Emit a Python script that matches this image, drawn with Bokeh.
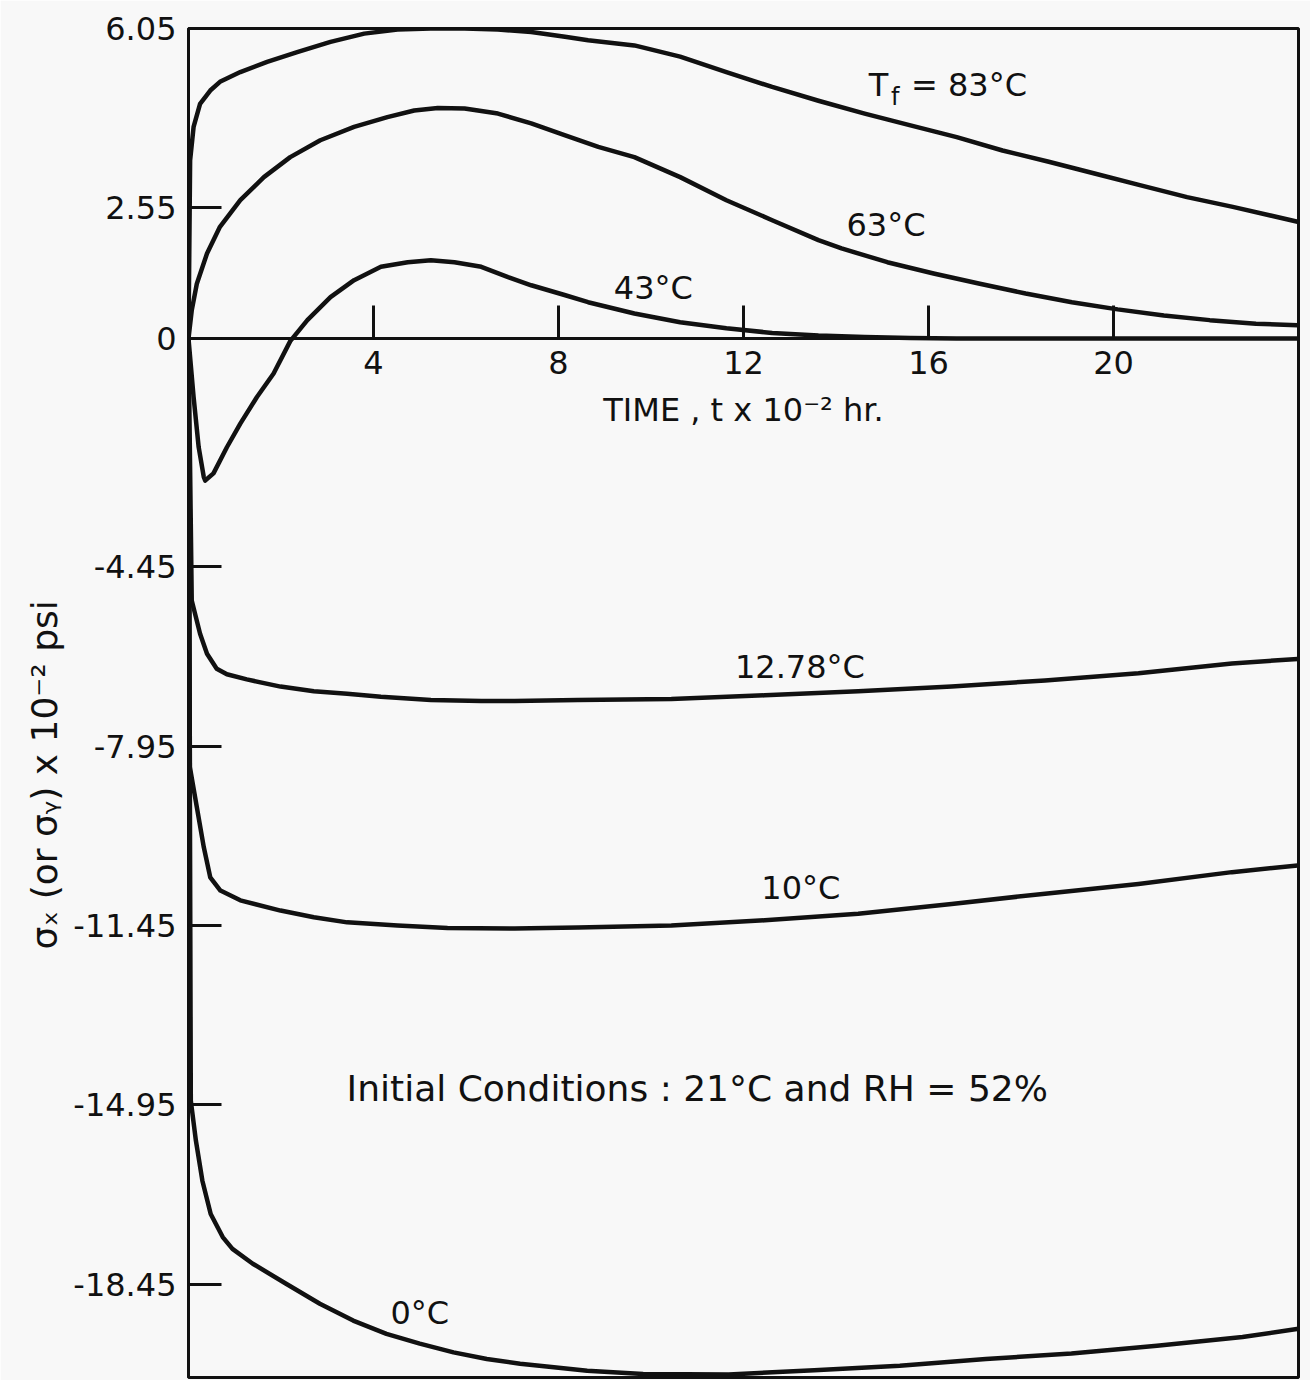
from math import pi
from bokeh.plotting import figure
from bokeh.models import LinearAxis, FixedTicker, Range1d, Title, ColumnDataSource
from bokeh.core.properties import value
from bokeh.embed import file_html
from bokeh.resources import INLINE

# ---------------- data ----------------
x_ticks = [4, 8, 12, 16, 20]
y_ticks = [6.05, 2.55, 0, -4.45, -7.95, -11.45, -14.95, -18.45]
y_tick_labels = ["6.05", "2.55", "0", "-4.45", "-7.95", "-11.45", "-14.95", "-18.45"]

t_83 = [0, 0.035, 0.11, 0.25, 0.47, 0.68, 1.12, 1.70, 2.35, 3.07, 3.80, 4.52, 5.24, 5.97, 6.69,
        7.41, 8.14, 8.64, 9.64, 10.63, 11.63, 12.62, 13.62, 14.62, 15.61, 16.61, 17.60, 18.60,
        19.59, 20.59, 21.59, 22.58, 23.98]
s_83 = [0, 3.48, 4.13, 4.58, 4.84, 5.01, 5.20, 5.40, 5.59, 5.79, 5.95, 6.03, 6.05, 6.05, 6.03,
        5.98, 5.89, 5.82, 5.72, 5.50, 5.20, 4.91, 4.64, 4.39, 4.16, 3.93, 3.67, 3.45,
        3.22, 2.99, 2.76, 2.57, 2.28]

t_63 = [0, 0.07, 0.18, 0.40, 0.68, 1.12, 1.63, 2.20, 2.85, 3.58, 4.30, 4.88, 5.39, 5.97, 6.69,
        7.41, 8.13, 8.86, 9.64, 10.63, 11.63, 12.62, 13.62, 14.12, 15.11, 16.11, 17.11, 18.10,
        19.10, 20.09, 21.09, 22.08, 23.08, 23.98]
s_63 = [0, 0.55, 1.07, 1.66, 2.18, 2.70, 3.15, 3.54, 3.87, 4.13, 4.32, 4.45, 4.50, 4.49, 4.39,
        4.20, 3.97, 3.74, 3.54, 3.15, 2.70, 2.31, 1.92, 1.76, 1.49, 1.27, 1.07, 0.88,
        0.71, 0.57, 0.45, 0.36, 0.29, 0.26]

t_43 = [0, 0.11, 0.22, 0.33, 0.36, 0.54, 0.83, 1.12, 1.48, 1.84, 2.20, 2.57, 3.07, 3.58, 4.16,
        4.74, 5.24, 5.75, 6.33, 6.91, 7.41, 8.13, 8.64, 9.64, 10.63, 11.63, 12.62, 13.62,
        14.62, 15.61, 16.61, 20.0, 23.98]
s_43 = [0, -1.14, -2.12, -2.70, -2.77, -2.63, -2.12, -1.66, -1.14, -0.68, -0.05, 0.36, 0.81, 1.14, 1.40,
        1.49, 1.53, 1.49, 1.40, 1.20, 1.04, 0.85, 0.71, 0.49, 0.32, 0.20, 0.11, 0.06,
        0.03, 0.01, 0.0, 0.0, 0.0]

t_1278 = [0, 0.07, 0.25, 0.40, 0.61, 0.83, 1.26, 1.99, 2.71, 3.43, 4.16, 5.24, 6.33, 7.05,
          8.42, 10.44, 12.46, 14.48, 16.50, 18.52, 20.54, 22.56, 23.98]
s_1278 = [0, -5.11, -5.76, -6.15, -6.44, -6.55, -6.65, -6.79, -6.88, -6.93, -6.99, -7.05, -7.07, -7.07,
          -7.05, -7.03, -6.96, -6.88, -6.79, -6.67, -6.53, -6.34, -6.25]

t_10 = [0, 0.03, 0.18, 0.33, 0.47, 0.69, 1.12, 1.99, 2.71, 3.43, 4.52, 5.60, 7.05, 8.42,
        10.44, 12.46, 14.48, 16.50, 18.52, 20.54, 22.56, 23.98]
s_10 = [0, -8.36, -9.14, -9.92, -10.51, -10.77, -10.96, -11.16, -11.29, -11.39, -11.45, -11.50, -11.51, -11.49,
        -11.45, -11.35, -11.22, -11.03, -10.83, -10.64, -10.41, -10.28]

t_0 = [0, 0.05, 0.16, 0.30, 0.48, 0.74, 0.95, 1.39, 2.11, 2.84, 3.56, 4.28, 5.00, 5.73, 6.45,
       7.17, 7.90, 8.62, 9.83, 11.68, 13.53, 15.38, 17.24, 19.09, 20.94, 22.79, 24.0]
s_0 = [0, -14.87, -15.65, -16.43, -17.08, -17.53, -17.76, -18.05, -18.44, -18.83, -19.16, -19.42, -19.61, -19.78, -19.91,
       -20.00, -20.07, -20.14, -20.20, -20.21, -20.13, -20.04, -19.91, -19.80, -19.65, -19.48, -19.32]

curve_names = ["83", "63", "43", "12.78", "10", "0"]
curve_t = [t_83, t_63, t_43, t_1278, t_10, t_0]
curve_s = [s_83, s_63, s_43, s_1278, s_10, s_0]

# curve labels
label_texts = ["63°C", "43°C", "12.78°C", "10°C", "0°C"]
label_t = [15.08, 10.05, 13.22, 13.24, 5.00]
label_s = [2.21, 0.98, -6.41, -10.71, -19.02]

note_text = "Initial Conditions : 21°C and RH = 52%"
x_title = "TIME , t x 10⁻² hr."
y_title = "σₓ (or σᵧ) x 10⁻² psi"

# ---------------- figure ----------------
FONT = "DejaVu Sans"
BG = "#f8f8f8"
INK = "#111111"

p = figure(width=1310, height=1380,
           x_range=Range1d(0, 24), y_range=Range1d(-20.27, 6.05),
           x_axis_type=None, y_axis_type=None,
           output_backend="svg", toolbar_location=None, tools="",
           min_border_left=188, min_border_top=28, min_border_right=12, min_border_bottom=3,
           background_fill_color=BG, border_fill_color=BG,
           outline_line_color=INK, outline_line_width=3)

yaxis = LinearAxis(ticker=FixedTicker(ticks=y_ticks),
                   major_label_overrides={v: l for v, l in zip(y_ticks, y_tick_labels)})
yaxis.axis_line_color = INK
yaxis.axis_line_width = 3
yaxis.major_tick_line_color = INK
yaxis.major_tick_line_width = 3
yaxis.major_tick_in = 33
yaxis.major_tick_out = 0
yaxis.minor_tick_line_color = None
yaxis.major_label_standoff = 12
yaxis.major_label_text_font = FONT
yaxis.major_label_text_font_size = "32px"
yaxis.major_label_text_color = INK
p.add_layout(yaxis, "left")

# vertical y title, shifted downward along the axis like in the reference
ytitle = Title(text=y_title, align="left", offset=428, text_font=FONT,
               text_font_size="36px", text_font_style="normal", text_color=INK, standoff=12)
p.add_layout(ytitle, "left")

xaxis = LinearAxis(ticker=FixedTicker(ticks=x_ticks), fixed_location=0, axis_label=x_title)
xaxis.axis_line_color = INK
xaxis.axis_line_width = 3
xaxis.major_tick_line_color = INK
xaxis.major_tick_line_width = 3
xaxis.major_tick_in = 33
xaxis.major_tick_out = 0
xaxis.minor_tick_line_color = None
xaxis.major_label_standoff = 12
xaxis.major_label_text_font = FONT
xaxis.major_label_text_font_size = "32px"
xaxis.major_label_text_color = INK
xaxis.axis_label_standoff = 14
xaxis.axis_label_text_font = FONT
xaxis.axis_label_text_font_size = "32px"
xaxis.axis_label_text_font_style = "normal"
xaxis.axis_label_text_color = INK
p.add_layout(xaxis, "below")

for name, t, s in zip(curve_names, curve_t, curve_s):
    src = ColumnDataSource(dict(t=t, s=s))
    p.line("t", "s", source=src, line_color=INK, line_width=4.5, line_join="round", line_cap="round")

lab_src = ColumnDataSource(dict(t=label_t, s=label_s, text=label_texts))
p.text("t", "s", text="text", source=lab_src, text_font=value(FONT), text_font_size="32px",
       text_align="center", text_baseline="middle", text_color=INK)

# T_f = 83°C (with subscript f)
p.text(x=[14.71], y=[4.94], text=["T"], text_font=value(FONT), text_font_size="32px",
       text_align="left", text_baseline="middle", text_color=INK)
p.text(x=[15.19], y=[4.72], text=["f"], text_font=value(FONT), text_font_size="24px",
       text_align="left", text_baseline="middle", text_color=INK)
p.text(x=[15.62], y=[4.94], text=["= 83°C"], text_font=value(FONT), text_font_size="32px",
       text_align="left", text_baseline="middle", text_color=INK)

p.text(x=[11.0], y=[-14.63], text=[note_text], text_font=value(FONT), text_font_size="36px",
       text_align="center", text_baseline="middle", text_color=INK)

open("out.html", "w").write(file_html(p, INLINE))
